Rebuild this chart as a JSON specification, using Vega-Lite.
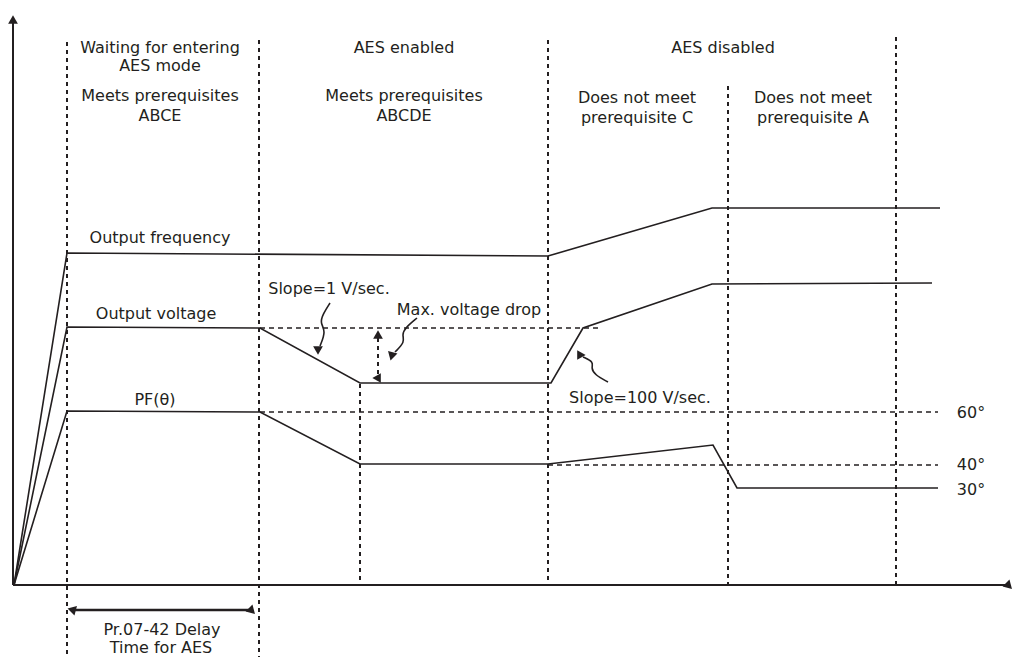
{
  "$schema": "https://vega.github.io/schema/vega-lite/v6.json",
  "width": 1018,
  "height": 657,
  "padding": 0,
  "autosize": "none",
  "background": "white",
  "config": {"view": {"stroke": null}},
  "datasets": {
    "axes": [
      {"x": 13, "y": 585, "x2": 1006, "y2": 585},
      {"x": 13, "y": 585, "x2": 13, "y2": 22}
    ],
    "dotted": [
      {"x": 67, "y": 42, "y2": 657},
      {"x": 259, "y": 40, "y2": 657},
      {"x": 360, "y": 384, "y2": 585},
      {"x": 548, "y": 40, "y2": 585},
      {"x": 728, "y": 86, "y2": 585},
      {"x": 896, "y": 37, "y2": 585}
    ],
    "dashed": [
      {"x": 260, "x2": 598, "y": 328},
      {"x": 260, "x2": 938, "y": 412},
      {"x": 548, "x2": 938, "y": 465}
    ],
    "dotarrow": [
      {"x": 378, "y": 338, "x2": 378, "y2": 376}
    ],
    "solidarrow": [
      {"x": 74, "y": 610, "x2": 250, "y2": 610}
    ],
    "signals": [
      {"series": "freq", "i": 0, "x": 14, "y": 585},
      {"series": "freq", "i": 1, "x": 67, "y": 253},
      {"series": "freq", "i": 2, "x": 548, "y": 256},
      {"series": "freq", "i": 3, "x": 712, "y": 208},
      {"series": "freq", "i": 4, "x": 940, "y": 208},
      {"series": "volt", "i": 0, "x": 14, "y": 585},
      {"series": "volt", "i": 1, "x": 67, "y": 327},
      {"series": "volt", "i": 2, "x": 260, "y": 328},
      {"series": "volt", "i": 3, "x": 360, "y": 383},
      {"series": "volt", "i": 4, "x": 551, "y": 383},
      {"series": "volt", "i": 5, "x": 583, "y": 328},
      {"series": "volt", "i": 6, "x": 712, "y": 284},
      {"series": "volt", "i": 7, "x": 932, "y": 283},
      {"series": "pf", "i": 0, "x": 14, "y": 585},
      {"series": "pf", "i": 1, "x": 67, "y": 411},
      {"series": "pf", "i": 2, "x": 260, "y": 412},
      {"series": "pf", "i": 3, "x": 360, "y": 464},
      {"series": "pf", "i": 4, "x": 548, "y": 464},
      {"series": "pf", "i": 5, "x": 713, "y": 445},
      {"series": "pf", "i": 6, "x": 737, "y": 488},
      {"series": "pf", "i": 7, "x": 938, "y": 488}
    ],
    "squiggles": [
      {"series": "s1", "i": 0, "x": 330, "y": 303},
      {"series": "s1", "i": 1, "x": 323, "y": 314},
      {"series": "s1", "i": 2, "x": 320, "y": 323},
      {"series": "s1", "i": 3, "x": 326, "y": 331},
      {"series": "s1", "i": 4, "x": 320, "y": 346},
      {"series": "s2", "i": 0, "x": 417, "y": 318},
      {"series": "s2", "i": 1, "x": 405, "y": 328},
      {"series": "s2", "i": 2, "x": 402, "y": 335},
      {"series": "s2", "i": 3, "x": 405, "y": 342},
      {"series": "s2", "i": 4, "x": 395, "y": 352},
      {"series": "s3", "i": 0, "x": 608, "y": 382},
      {"series": "s3", "i": 1, "x": 595, "y": 375},
      {"series": "s3", "i": 2, "x": 591, "y": 368},
      {"series": "s3", "i": 3, "x": 594, "y": 362},
      {"series": "s3", "i": 4, "x": 583, "y": 357}
    ],
    "heads": [
      {"x": 13, "y": 21, "dir": "up"},
      {"x": 1008, "y": 585, "dir": "right"},
      {"x": 378, "y": 336, "dir": "up"},
      {"x": 378, "y": 378, "dir": "down"},
      {"x": 73, "y": 610, "dir": "left"},
      {"x": 251, "y": 610, "dir": "right"},
      {"x": 318, "y": 349, "dir": "sw1"},
      {"x": 392, "y": 355, "dir": "sw2"},
      {"x": 580, "y": 355, "dir": "nw"}
    ],
    "labels": [
      {"x": 160, "y": 48, "text": "Waiting for entering"},
      {"x": 160, "y": 66, "text": "AES mode"},
      {"x": 160, "y": 96, "text": "Meets prerequisites"},
      {"x": 160, "y": 116, "text": "ABCE"},
      {"x": 404, "y": 48, "text": "AES enabled"},
      {"x": 404, "y": 96, "text": "Meets prerequisites"},
      {"x": 404, "y": 116, "text": "ABCDE"},
      {"x": 723, "y": 48, "text": "AES disabled"},
      {"x": 637, "y": 98, "text": "Does not meet"},
      {"x": 637, "y": 118, "text": "prerequisite C"},
      {"x": 813, "y": 98, "text": "Does not meet"},
      {"x": 813, "y": 118, "text": "prerequisite A"},
      {"x": 160, "y": 238, "text": "Output  frequency"},
      {"x": 156, "y": 314, "text": "Output voltage"},
      {"x": 155, "y": 400, "text": "PF(θ)"},
      {"x": 329, "y": 289, "text": "Slope=1 V/sec."},
      {"x": 469, "y": 310, "text": "Max. voltage drop"},
      {"x": 640, "y": 398, "text": "Slope=100 V/sec."},
      {"x": 971, "y": 413, "text": "60°"},
      {"x": 971, "y": 465, "text": "40°"},
      {"x": 971, "y": 490, "text": "30°"},
      {"x": 162, "y": 630, "text": "Pr.07-42 Delay"},
      {"x": 161, "y": 648, "text": "Time for AES"}
    ]
  },
  "layer": [
    {
      "data": {"name": "axes"},
      "mark": {"type": "rule", "color": "#231f20", "strokeWidth": 2},
      "encoding": {
        "x": {"field": "x", "type": "quantitative", "scale": {"domain": [0, 1018], "nice": false, "zero": false}, "axis": null},
        "y": {"field": "y", "type": "quantitative", "scale": {"domain": [0, 657], "reverse": true, "nice": false, "zero": false}, "axis": null},
        "x2": {"field": "x2"},
        "y2": {"field": "y2"}
      }
    },
    {
      "data": {"name": "dotted"},
      "mark": {"type": "rule", "color": "#231f20", "strokeWidth": 2, "strokeDash": [4, 4]},
      "encoding": {
        "x": {"field": "x", "type": "quantitative", "scale": {"domain": [0, 1018], "nice": false, "zero": false}, "axis": null},
        "y": {"field": "y", "type": "quantitative", "scale": {"domain": [0, 657], "reverse": true, "nice": false, "zero": false}, "axis": null},
        "y2": {"field": "y2"}
      }
    },
    {
      "data": {"name": "dashed"},
      "mark": {"type": "rule", "color": "#231f20", "strokeWidth": 1.6, "strokeDash": [5, 4]},
      "encoding": {
        "x": {"field": "x", "type": "quantitative", "scale": {"domain": [0, 1018], "nice": false, "zero": false}, "axis": null},
        "y": {"field": "y", "type": "quantitative", "scale": {"domain": [0, 657], "reverse": true, "nice": false, "zero": false}, "axis": null},
        "x2": {"field": "x2"}
      }
    },
    {
      "data": {"name": "dotarrow"},
      "mark": {"type": "rule", "color": "#231f20", "strokeWidth": 2, "strokeDash": [4, 4]},
      "encoding": {
        "x": {"field": "x", "type": "quantitative", "scale": {"domain": [0, 1018], "nice": false, "zero": false}, "axis": null},
        "y": {"field": "y", "type": "quantitative", "scale": {"domain": [0, 657], "reverse": true, "nice": false, "zero": false}, "axis": null},
        "x2": {"field": "x2"},
        "y2": {"field": "y2"}
      }
    },
    {
      "data": {"name": "solidarrow"},
      "mark": {"type": "rule", "color": "#231f20", "strokeWidth": 2.5},
      "encoding": {
        "x": {"field": "x", "type": "quantitative", "scale": {"domain": [0, 1018], "nice": false, "zero": false}, "axis": null},
        "y": {"field": "y", "type": "quantitative", "scale": {"domain": [0, 657], "reverse": true, "nice": false, "zero": false}, "axis": null},
        "x2": {"field": "x2"},
        "y2": {"field": "y2"}
      }
    },
    {
      "data": {"name": "signals"},
      "mark": {"type": "line", "color": "#231f20", "strokeWidth": 1.6},
      "encoding": {
        "x": {"field": "x", "type": "quantitative", "scale": {"domain": [0, 1018], "nice": false, "zero": false}, "axis": null},
        "y": {"field": "y", "type": "quantitative", "scale": {"domain": [0, 657], "reverse": true, "nice": false, "zero": false}, "axis": null},
        "detail": {"field": "series", "type": "nominal"},
        "order": {"field": "i", "type": "quantitative"}
      }
    },
    {
      "data": {"name": "squiggles"},
      "mark": {"type": "line", "color": "#231f20", "strokeWidth": 1.6, "interpolate": "basis"},
      "encoding": {
        "x": {"field": "x", "type": "quantitative", "scale": {"domain": [0, 1018], "nice": false, "zero": false}, "axis": null},
        "y": {"field": "y", "type": "quantitative", "scale": {"domain": [0, 657], "reverse": true, "nice": false, "zero": false}, "axis": null},
        "detail": {"field": "series", "type": "nominal"},
        "order": {"field": "i", "type": "quantitative"}
      }
    },
    {
      "data": {"name": "heads"},
      "mark": {"type": "point", "shape": "triangle", "filled": true, "color": "#231f20", "opacity": 1, "size": 95},
      "encoding": {
        "x": {"field": "x", "type": "quantitative", "scale": {"domain": [0, 1018], "nice": false, "zero": false}, "axis": null},
        "y": {"field": "y", "type": "quantitative", "scale": {"domain": [0, 657], "reverse": true, "nice": false, "zero": false}, "axis": null},
        "angle": {"field": "dir", "type": "ordinal", "scale": {"domain": ["up", "right", "down", "left", "sw1", "sw2", "nw"], "range": [0, 90, 180, 270, 205, 215, 300]}, "legend": null}
      }
    },
    {
      "data": {"name": "labels"},
      "mark": {"type": "text", "font": "DejaVu Sans", "fontSize": 16, "color": "#231f20", "align": "center", "baseline": "middle"},
      "encoding": {
        "x": {"field": "x", "type": "quantitative", "scale": {"domain": [0, 1018], "nice": false, "zero": false}, "axis": null},
        "y": {"field": "y", "type": "quantitative", "scale": {"domain": [0, 657], "reverse": true, "nice": false, "zero": false}, "axis": null},
        "text": {"field": "text", "type": "nominal"}
      }
    }
  ]
}
